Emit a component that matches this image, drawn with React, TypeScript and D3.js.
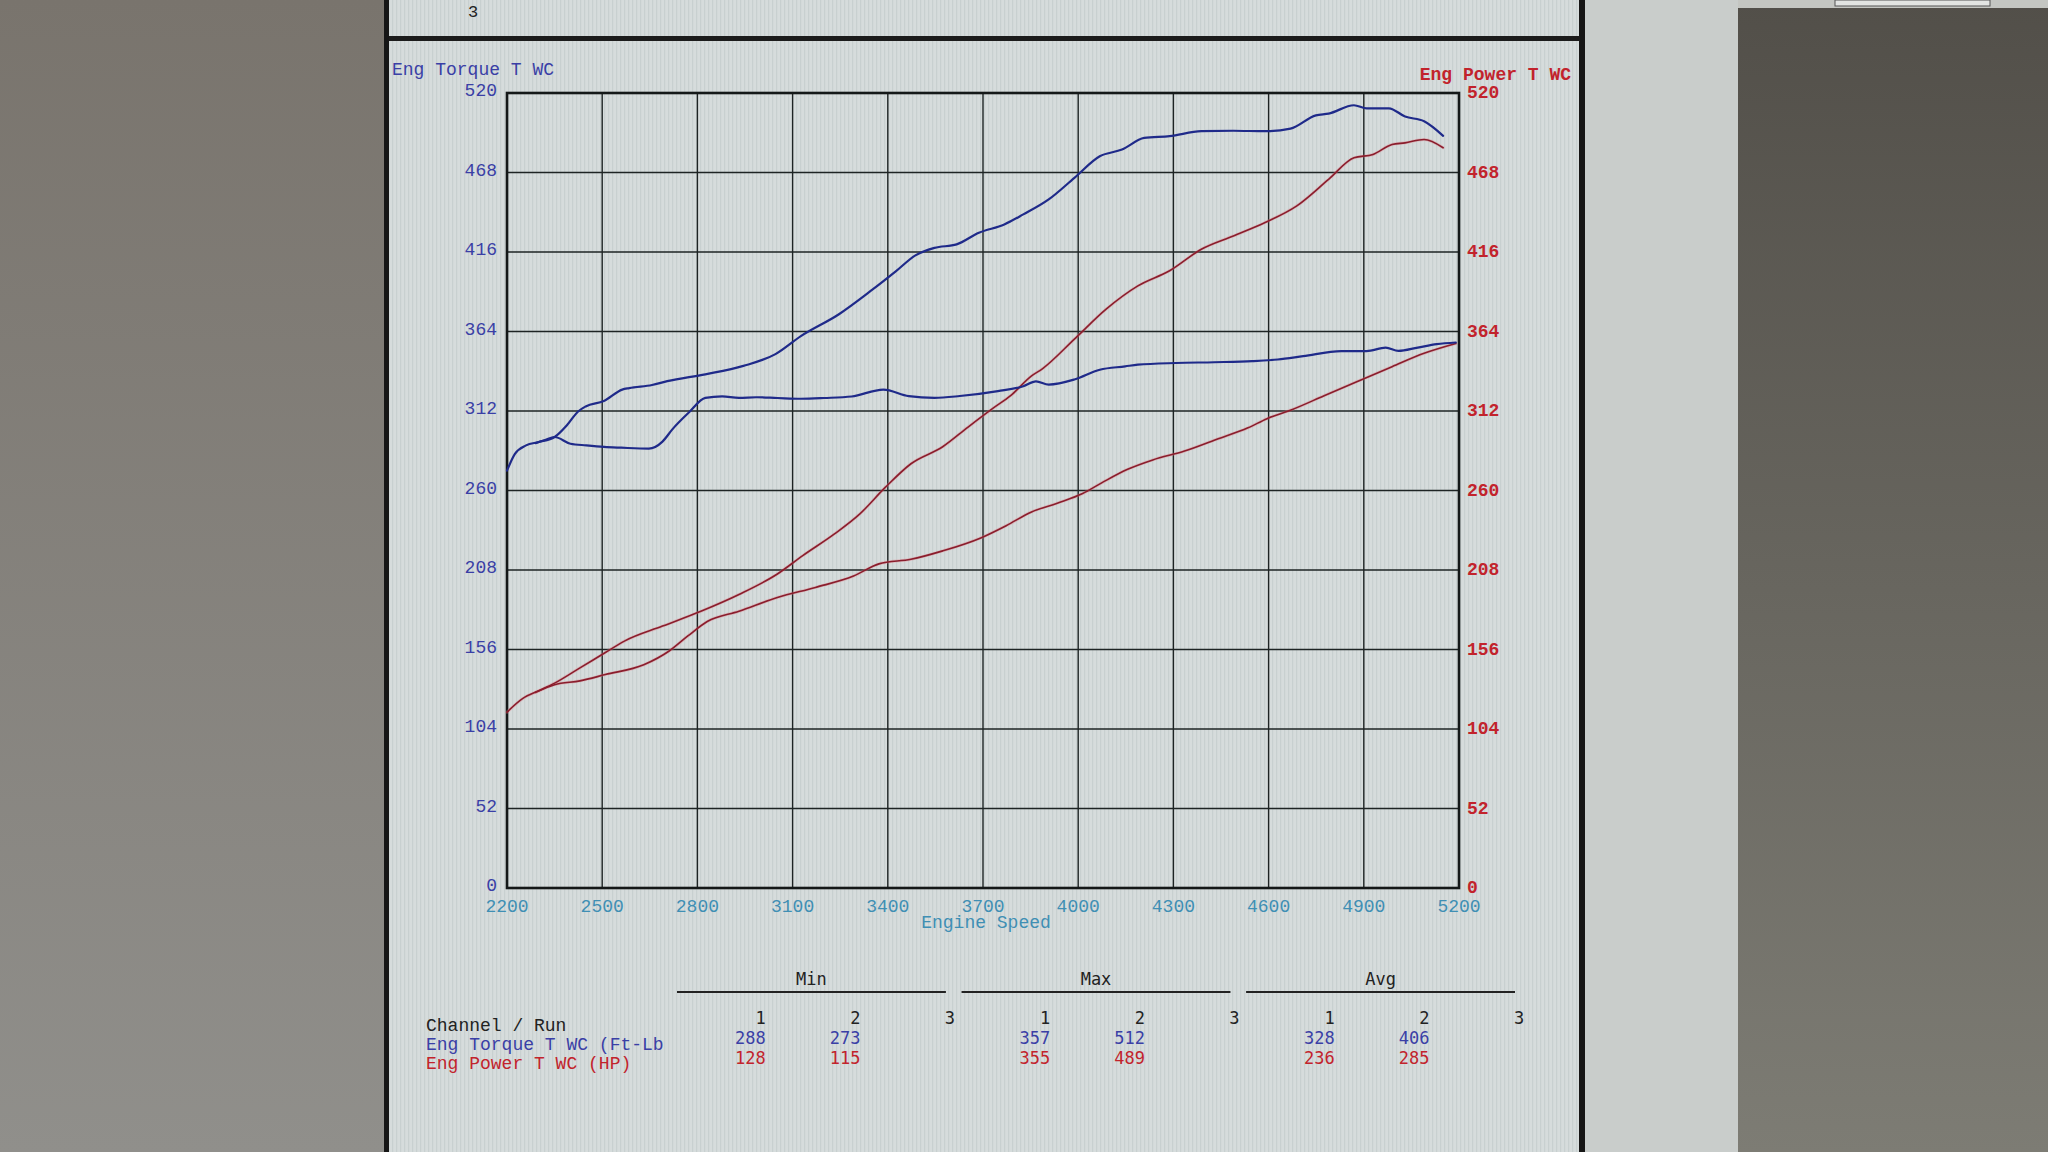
import React from "react";
import * as d3 from "d3";

// ---------- data ----------
const xTicks = [2200, 2500, 2800, 3100, 3400, 3700, 4000, 4300, 4600, 4900, 5200];
const yTicks = [0, 52, 104, 156, 208, 260, 312, 364, 416, 468, 520];

// Run 1 (lower curves)
const torque1Rpm = [2290, 2320, 2350, 2400, 2450, 2506, 2560, 2647, 2690, 2721, 2773, 2825, 2878, 2931, 2986, 3052, 3126, 3200, 3286, 3386, 3466, 3547, 3627, 3747, 3827, 3867, 3907, 3988, 4068, 4148, 4188, 4308, 4428, 4549, 4629, 4709, 4829, 4909, 4969, 5009, 5070, 5130, 5190];
const torque1Val = [291, 293, 295, 290.6, 289.5, 288.5, 288, 287.4, 292, 300, 311, 320.6, 321.6, 320.6, 321, 320.5, 320, 320.5, 321.5, 326, 321.7, 320.6, 321.8, 325, 328.2, 331.4, 329.3, 332.6, 339, 341.2, 342.3, 343.4, 343.9, 344.6, 345.7, 347.9, 351.2, 351.2, 353.4, 351.3, 353.5, 355.7, 356.8];

const power1Rpm = [2290, 2350, 2430, 2510, 2631, 2711, 2771, 2831, 2931, 3052, 3172, 3292, 3372, 3473, 3573, 3693, 3773, 3853, 3934, 4014, 4074, 4154, 4235, 4335, 4435, 4535, 4595, 4675, 4775, 4876, 4989, 5090, 5190];
const power1Val = [128, 133, 135.5, 139.6, 146, 155, 165, 174.3, 181, 190, 196.6, 204, 212, 215, 220.5, 229, 237, 246, 251.7, 258, 265, 273.7, 280, 285.8, 293.4, 301, 307, 313, 322, 331, 341, 349.7, 356.1];

// Run 2 (upper curves)
const torque2Rpm = [2200, 2225, 2260, 2300, 2350, 2390, 2424, 2448, 2505, 2563, 2585, 2657, 2705, 2825, 2945, 3046, 3126, 3246, 3346, 3426, 3487, 3547, 3617, 3687, 3767, 3827, 3907, 3988, 4068, 4138, 4208, 4288, 4388, 4489, 4589, 4669, 4749, 4789, 4869, 4909, 4979, 5030, 5090, 5150];
const torque2Val = [273, 284, 289.5, 291.7, 295, 303, 311.7, 315, 318.5, 326, 327, 329, 331.5, 336, 341.5, 349.2, 361, 375.3, 390.5, 403.5, 413.8, 418.7, 421, 428.6, 434, 440.6, 450.4, 464.5, 478.6, 483, 490.6, 491.8, 495, 495.3, 495, 496.7, 505.4, 506.5, 512, 509.9, 510, 504.6, 501.5, 492];

const power2Rpm = [2200, 2250, 2300, 2350, 2430, 2510, 2570, 2690, 2811, 2931, 3052, 3132, 3232, 3312, 3392, 3473, 3573, 3653, 3733, 3787, 3853, 3887, 3988, 4088, 4188, 4288, 4388, 4489, 4589, 4689, 4789, 4869, 4929, 4989, 5030, 5090, 5150];
const power2Val = [115, 124, 129, 134, 144, 154, 161.5, 171.3, 181, 192, 205.4, 217.4, 231.6, 244.7, 262, 277.5, 288.6, 301.5, 314, 322, 335, 339.6, 359, 378.6, 393.8, 403.7, 417.8, 426.5, 435.3, 446.2, 463.5, 477.6, 479.8, 486.3, 487.4, 489.6, 484.2];

// Summary table
const runLabels = ["1", "2", "3"];
const statGroups = ["Min", "Max", "Avg"];
const torqueStats = [[288, 273], [357, 512], [328, 406]];
const powerStats = [[128, 115], [355, 489], [236, 285]];

// ---------- styling ----------
const W = 2048;
const H = 1152;
const BLUE = "#1f2a8a";
const RED = "#8a1d2c";
const BLUE_TXT = "#3a3fa6";
const RED_TXT = "#c2232c";
const TEAL = "#3f8fb4";
const MONO = "'Liberation Mono', 'DejaVu Sans Mono', monospace";
const MONO2 = "'DejaVu Sans Mono', 'Liberation Mono', monospace";

const plot = { left: 507, right: 1459, top: 93, bottom: 888 };

export default function App() {
  const x = d3.scaleLinear().domain([2200, 5200]).range([plot.left, plot.right]);
  const yL = d3.scaleLinear().domain([0, 520]).range([plot.bottom, plot.top]);
  const yR = d3.scaleLinear().domain([0, 520]).range([plot.bottom, plot.top]);

  const mk = (rpm: number[], val: number[], y: d3.ScaleLinear<number, number>) =>
    d3
      .line<number>()
      .x((_, i) => x(rpm[i]))
      .y((v) => y(v))
      .curve(d3.curveMonotoneX)(val) as string;

  const t1 = mk(torque1Rpm, torque1Val, yL);
  const t2 = mk(torque2Rpm, torque2Val, yL);
  const p1 = mk(power1Rpm, power1Val, yR);
  const p2 = mk(power2Rpm, power2Val, yR);

  // table column positions
  const groupX = d3.scaleBand<string>().domain(statGroups).range([677, 1515]).paddingInner(0.055);
  const colRight = (g: number, r: number) => {
    const gx = groupX(statGroups[g]) as number;
    const bw = groupX.bandwidth();
    return gx + bw * (0.33 + r * 0.352);
  };

  return (
    <svg
      width={W}
      height={H}
      style={{ position: "fixed", left: 0, top: 0, display: "block" }}
      xmlns="http://www.w3.org/2000/svg"
    >
      <defs>
        <linearGradient id="leftBg" x1="0" y1="0" x2="0" y2="1">
          <stop offset="0" stopColor="#79746d" />
          <stop offset="1" stopColor="#908f8b" />
        </linearGradient>
        <linearGradient id="rightBg" x1="0" y1="0" x2="0" y2="1">
          <stop offset="0" stopColor="#524f49" />
          <stop offset="1" stopColor="#7d7c74" />
        </linearGradient>
        <pattern id="stripes" width="4" height="4" patternUnits="userSpaceOnUse">
          <rect width="4" height="4" fill="#d6dcdc" />
          <rect width="1.2" height="4" fill="#c8d0d0" />
        </pattern>
      </defs>

      {/* photo surroundings */}
      <rect x={0} y={0} width={W} height={H} fill="url(#leftBg)" />
      <rect x={1738} y={0} width={W - 1738} height={H} fill="url(#rightBg)" />
      <rect x={1584} y={0} width={154} height={H} fill="#c9cdcb" />
      <rect x={1738} y={0} width={W - 1738} height={8} fill="#c4c6c2" />
      <rect x={1835} y={0} width={155} height={6} fill="#e2e4e2" stroke="#555" strokeWidth={1} />

      {/* monitor window */}
      <rect x={389} y={0} width={1191} height={H} fill="url(#stripes)" />
      <rect x={384} y={0} width={5} height={H} fill="#161616" />
      <rect x={1579} y={0} width={6} height={H} fill="#161616" />
      <rect x={389} y={36} width={1191} height={5} fill="#1c1c1c" />
      <text x={473} y={17} fontFamily={MONO} fontSize={17} fill="#222" textAnchor="middle">3</text>

      {/* plot grid */}
      <g stroke="#1e2424" strokeWidth={1.4}>
        {xTicks.map((t) => (
          <line key={"gx" + t} x1={x(t)} x2={x(t)} y1={plot.top} y2={plot.bottom} />
        ))}
        {yTicks.map((t) => (
          <line key={"gy" + t} x1={plot.left} x2={plot.right} y1={yL(t)} y2={yL(t)} />
        ))}
      </g>
      <rect
        x={plot.left}
        y={plot.top}
        width={plot.right - plot.left}
        height={plot.bottom - plot.top}
        fill="none"
        stroke="#141818"
        strokeWidth={2.6}
      />

      {/* curves */}
      <g fill="none" strokeLinejoin="round" strokeLinecap="round">
        <path d={p1} stroke="#e07a86" strokeWidth={3} opacity={0.35} />
        <path d={p2} stroke="#e07a86" strokeWidth={3} opacity={0.35} />
        <path d={p1} stroke={RED} strokeWidth={1.6} />
        <path d={p2} stroke={RED} strokeWidth={1.6} />
        <path d={t1} stroke={BLUE} strokeWidth={2.2} />
        <path d={t2} stroke={BLUE} strokeWidth={2.2} />
      </g>

      {/* left axis */}
      <text x={392} y={75} fontFamily={MONO} fontSize={18} fill={BLUE_TXT}>Eng Torque T WC</text>
      {yTicks.map((t) => (
        <text
          key={"yl" + t}
          x={497}
          y={yL(t) - 2}
          dy="0.3em"
          textAnchor="end"
          fontFamily={MONO}
          fontSize={18}
          fill={BLUE_TXT}
        >
          {t}
        </text>
      ))}

      {/* right axis */}
      <text x={1571} y={80} textAnchor="end" fontFamily={MONO} fontSize={18} fontWeight="bold" fill={RED_TXT}>
        Eng Power T WC
      </text>
      {yTicks.map((t) => (
        <text
          key={"yr" + t}
          x={1467}
          y={yR(t)}
          dy="0.3em"
          fontFamily={MONO}
          fontSize={18}
          fontWeight="bold"
          fill={RED_TXT}
        >
          {t}
        </text>
      ))}

      {/* x axis */}
      {xTicks.map((t) => (
        <text
          key={"xt" + t}
          x={x(t)}
          y={912}
          textAnchor="middle"
          fontFamily={MONO}
          fontSize={18}
          fill={TEAL}
        >
          {t}
        </text>
      ))}
      <text x={986} y={928} textAnchor="middle" fontFamily={MONO} fontSize={18} fill={TEAL}>
        Engine Speed
      </text>

      {/* summary table */}
      {statGroups.map((g, gi) => {
        const gx = groupX(g) as number;
        const bw = groupX.bandwidth();
        return (
          <g key={"grp" + g}>
            <text x={gx + bw / 2} y={985} textAnchor="middle" fontFamily={MONO2} fontSize={17} fill="#222">
              {g}
            </text>
            <line x1={gx} x2={gx + bw} y1={992} y2={992} stroke="#222" strokeWidth={2} />
            {runLabels.map((r, ri) => (
              <text
                key={"rl" + ri}
                x={colRight(gi, ri)}
                y={1024}
                textAnchor="end"
                fontFamily={MONO2}
                fontSize={17}
                fill="#222"
              >
                {r}
              </text>
            ))}
            {torqueStats[gi].map((v, ri) => (
              <text
                key={"ts" + ri}
                x={colRight(gi, ri)}
                y={1044}
                textAnchor="end"
                fontFamily={MONO2}
                fontSize={17}
                fill={BLUE_TXT}
              >
                {v}
              </text>
            ))}
            {powerStats[gi].map((v, ri) => (
              <text
                key={"ps" + ri}
                x={colRight(gi, ri)}
                y={1064}
                textAnchor="end"
                fontFamily={MONO2}
                fontSize={17}
                fill={RED_TXT}
              >
                {v}
              </text>
            ))}
          </g>
        );
      })}
      <text x={426} y={1031} fontFamily={MONO} fontSize={18} fill="#222">Channel / Run</text>
      <text x={426} y={1050} fontFamily={MONO} fontSize={18} fill={BLUE_TXT}>Eng Torque T WC (Ft-Lb</text>
      <text x={426} y={1069} fontFamily={MONO} fontSize={18} fill={RED_TXT}>Eng Power T WC (HP)</text>
    </svg>
  );
}
